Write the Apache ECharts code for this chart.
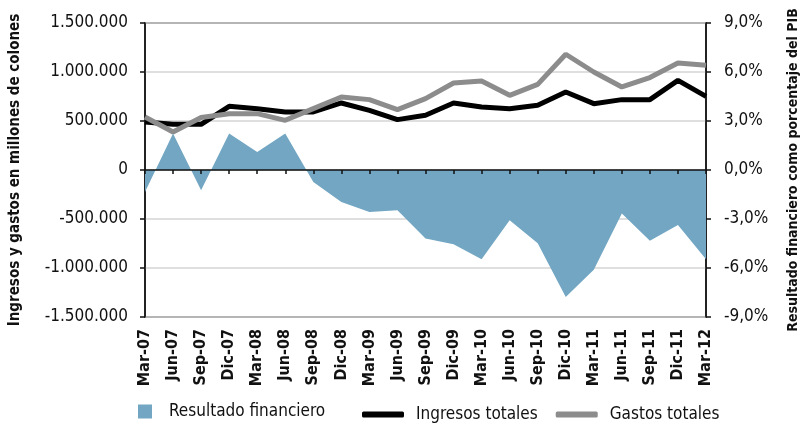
<!DOCTYPE html>
<html>
<head>
<meta charset="utf-8">
<title>Resultado financiero</title>
<script src="https://cdn.jsdelivr.net/npm/echarts@6/dist/echarts.min.js"></script>
</head>
<body style="margin:0">
<div id="main" style="width:808px;height:434px;"></div>
<script>
var trimestres = ['Mar-07','Jun-07','Sep-07','Dic-07','Mar-08','Jun-08','Sep-08','Dic-08','Mar-09','Jun-09','Sep-09',
    'Dic-09','Mar-10','Jun-10','Sep-10','Dic-10','Mar-11','Jun-11','Sep-11','Dic-11','Mar-12'];
// millones de colones
var ingresos = [490000,466000,466000,650000,626000,592000,592000,684000,609000,514000,558000,
    684000,643000,626000,660000,796000,677000,718000,718000,915000,752000];
var gastos = [541000,388000,535000,575000,575000,507000,626000,745000,718000,616000,728000,
    888000,908000,762000,874000,1181000,1000000,847000,943000,1092000,1068000];
// % del PIB
var resultado = [-1.35,2.23,-1.24,2.23,1.1,2.23,-0.73,-1.96,-2.57,-2.47,-4.2,
    -4.55,-5.47,-3.08,-4.49,-7.78,-6.1,-2.67,-4.33,-3.37,-5.47];

var font = "'DejaVu Sans Condensed', 'Liberation Sans Narrow', sans-serif";

function miles(v){
    var s = String(Math.abs(v)).replace(/\B(?=(\d{3})+(?!\d))/g, '.');
    return (v < 0 ? '-' : '') + s;
}
function pct(v){
    return v.toFixed(1).replace('.', ',') + '%';
}

var myChart = echarts.init(document.getElementById('main'));

var option = {
    animation: false,
    textStyle: { fontFamily: font },
    grid: {
        left: 145, right: 92, top: 23, bottom: 117,
        show: true, borderColor: '#222', borderWidth: 1.5
    },
    legend: [{
        left: 133, top: 398,
        itemWidth: 14, itemHeight: 14,
        textStyle: { fontFamily: font, fontSize: 17, color: '#111', padding: [0, 0, 0, 12] },
        data: [{ name: 'Resultado financiero', icon: 'rect' }]
    }, {
        left: 357, top: 401,
        itemWidth: 42, itemHeight: 6, itemGap: 18,
        textStyle: { fontFamily: font, fontSize: 17, color: '#111', padding: [0, 0, 0, 7] },
        data: [{ name: 'Ingresos totales', icon: 'roundRect' }, { name: 'Gastos totales', icon: 'roundRect' }]
    }],
    xAxis: [{
        type: 'category',
        data: trimestres,
        boundaryGap: false,
        position: 'bottom',
        axisLine: { show: false, onZero: false },
        axisTick: { show: false },
        splitLine: { show: false },
        axisLabel: {
            rotate: 90, interval: 0, margin: 12,
            fontFamily: font, fontSize: 16, fontWeight: 'bold', color: '#111'
        }
    }, {
        type: 'category',
        data: trimestres,
        boundaryGap: false,
        position: 'bottom',
        z: 3,
        axisLine: { show: true, onZero: true, onZeroAxisIndex: 0, lineStyle: { color: '#111', width: 1.5 } },
        axisTick: { show: true, interval: 0, length: 4, lineStyle: { color: '#111', width: 1.5 } },
        axisLabel: { show: false },
        splitLine: { show: false }
    }],
    yAxis: [{
        type: 'value',
        min: -1500000, max: 1500000, interval: 500000,
        position: 'left',
        name: 'Ingresos y gastos en millones de colones',
        nameLocation: 'middle', nameRotate: 90, nameGap: 122,
        nameTextStyle: { fontFamily: font, fontSize: 15, fontWeight: 'bold', color: '#111' },
        axisLine: { show: true, lineStyle: { color: '#111', width: 1.5 } },
        axisTick: { show: true, length: 5, lineStyle: { color: '#111', width: 1.5 } },
        axisLabel: { formatter: miles, margin: 17, fontFamily: font, fontSize: 17, color: '#111' },
        splitLine: { show: true, lineStyle: { color: '#d4d4d4', width: 1.5 } }
    }, {
        type: 'value',
        min: -9, max: 9, interval: 3,
        position: 'right',
        name: 'Resultado financiero como porcentaje del PIB',
        nameLocation: 'middle', nameRotate: 90, nameGap: 80,
        nameTextStyle: { fontFamily: font, fontSize: 14, fontWeight: 'bold', color: '#111' },
        axisLine: { show: true, lineStyle: { color: '#111', width: 1.5 } },
        axisTick: { show: true, length: 5, lineStyle: { color: '#111', width: 1.5 } },
        axisLabel: { formatter: pct, margin: 18, fontFamily: font, fontSize: 17, color: '#111' },
        splitLine: { show: false }
    }],
    series: [{
        name: 'Resultado financiero',
        type: 'line',
        yAxisIndex: 1,
        data: resultado,
        showSymbol: false,
        lineStyle: { width: 0 },
        itemStyle: { color: '#72a6c3' },
        areaStyle: { color: '#72a6c3', opacity: 1 }
    }, {
        name: 'Ingresos totales',
        type: 'line',
        data: ingresos,
        showSymbol: false,
        lineStyle: { color: '#000', width: 5 },
        itemStyle: { color: '#000' }
    }, {
        name: 'Gastos totales',
        type: 'line',
        data: gastos,
        showSymbol: false,
        lineStyle: { color: '#8c8c8c', width: 5 },
        itemStyle: { color: '#8c8c8c' }
    }]
};

myChart.setOption(option);
</script>
</body>
</html>
